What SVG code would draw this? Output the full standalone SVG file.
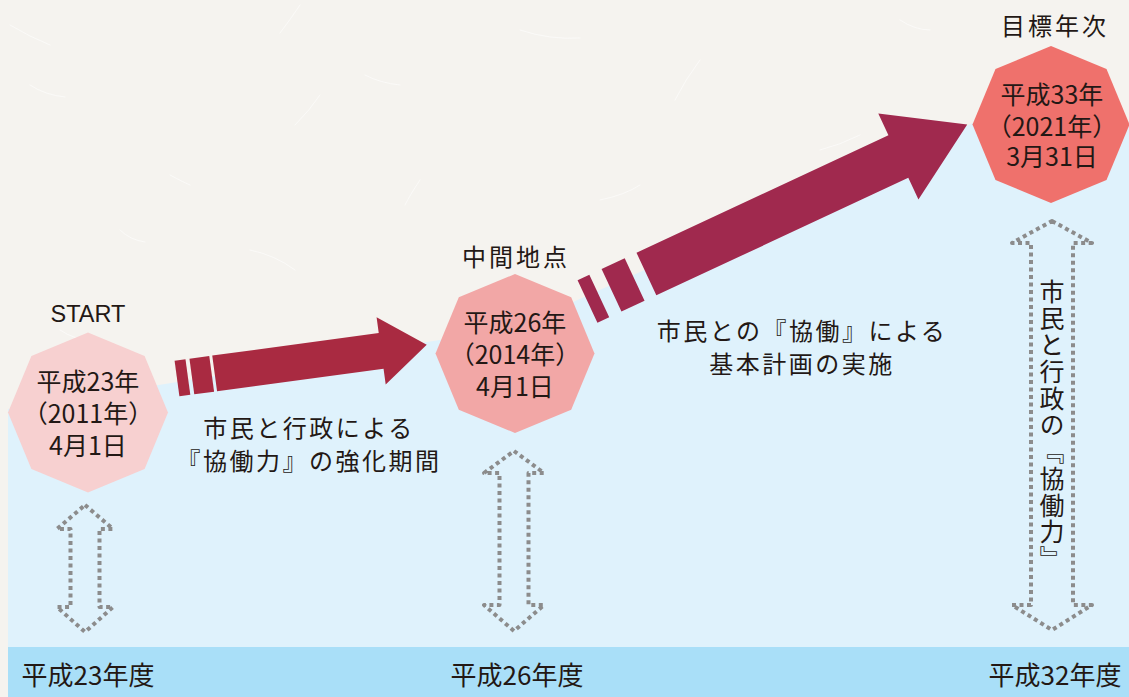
<svg xmlns="http://www.w3.org/2000/svg" width="1129" height="697" viewBox="0 0 1129 697">
  <style>
    .jp { font-family: "Noto Sans CJK JP", "Noto Sans CJK SC", sans-serif; fill: #231815; }
    .oct { font-size: 25px; text-anchor: middle; }
    .head { font-size: 24px; text-anchor: middle; letter-spacing: 3px; }
    .body { font-size: 24px; text-anchor: middle; letter-spacing: 2.5px; }
    .year { font-size: 26px; text-anchor: middle; }
    .fiber { fill: none; stroke: #ffffff; stroke-width: 1; stroke-linecap: round; opacity: 0.55; }
    .dotted { fill: none; stroke: #8c8c8c; stroke-width: 4; stroke-dasharray: 4 3.5; stroke-linejoin: round; }
  </style>

  <!-- paper background -->
  <rect x="0" y="0" width="1129" height="697" fill="#f5f3ef"/>
  <g id="paper-fibers">
    <path class="fiber" d="M10 25 q20 12 40 20"/>
    <path class="fiber" d="M30 85 q15 10 35 12"/>
    <path class="fiber" d="M300 5 q-10 15 -20 28"/>
    <path class="fiber" d="M320 95 q-10 15 -25 30"/>
    <path class="fiber" d="M365 75 q15 8 35 10"/>
    <path class="fiber" d="M170 175 q15 8 20 10"/>
    <path class="fiber" d="M520 30 q30 10 60 8"/>
    <path class="fiber" d="M700 60 q-15 20 -25 40"/>
    <path class="fiber" d="M820 150 q20 -5 40 -15"/>
    <path class="fiber" d="M250 250 q25 5 45 20"/>
    <path class="fiber" d="M120 230 q10 10 25 12"/>
    <path class="fiber" d="M420 180 q-10 15 -15 25"/>
    <path class="fiber" d="M600 200 q25 -5 40 -15"/>
    <path class="fiber" d="M900 20 q15 10 30 10"/>
    <path class="fiber" d="M60 330 q15 10 30 10"/>
  </g>

  <!-- light blue area and bottom bar -->
  <polygon id="blue-area" points="8,409 515,328 973,123 1129,125 1129,697 8,697" fill="#dff2fc"/>
  <rect id="year-bar" x="8" y="647" width="1121" height="50" fill="#a9dff8"/>

  <!-- connectors -->
  <g id="connectors">
    <g id="arrow-1" transform="translate(177,378.5) rotate(-7.7)" fill="#a92a41">
      <rect x="0" y="-18" width="11" height="36"/>
      <rect x="15" y="-18" width="20" height="36"/>
      <polygon points="38,-18 206,-18 206,-34 252,0 206,34 206,18 38,18"/>
    </g>
    <g id="arrow-2" transform="translate(587.5,301.5) rotate(-25)" fill="#a0294e">
      <rect x="0" y="-23.5" width="13" height="47"/>
      <rect x="26.5" y="-23.5" width="25.5" height="47"/>
      <polygon points="65,-23.5 343,-23.5 343,-47.5 419,0 343,47.5 343,23.5 65,23.5"/>
    </g>
    <path id="span-1" class="dotted" d="M85 505 L113 529 L99.5 529 L99.5 607 L113 607 L85 632 L57 607 L70.5 607 L70.5 529 L57 529 Z"/>
    <path id="span-2" class="dotted" d="M514 451 L544 473 L528.5 473 L528.5 605 L544 605 L514 631 L484 605 L499.5 605 L499.5 473 L484 473 Z"/>
    <path id="span-3" class="dotted" d="M1052 221 L1092 243 L1073 243 L1073 605 L1092 605 L1052 630 L1012 605 L1031 605 L1031 243 L1012 243 Z"/>
  </g>

  <!-- nodes -->
  <g id="node-start">
    <text x="88" y="322" font-family="Liberation Sans, Arial, sans-serif" font-size="23.5" text-anchor="middle" fill="#231815">START</text>
    <polygon points="88,332.5 144.6,356 168,412.5 144.6,469 88,492.5 31.4,469 8,412.5 31.4,356" fill="#f7d0d0"/>
    <text class="jp oct" x="88" y="391">平成23年</text>
    <text class="jp oct" x="88" y="423">（2011年）</text>
    <text class="jp oct" x="88" y="455">4月1日</text>
  </g>

  <g id="node-mid">
    <text class="jp head" x="516" y="266">中間地点</text>
    <polygon points="515,274 571.2,297.3 594.5,353.5 571.2,409.7 515,433 458.8,409.7 435.5,353.5 458.8,297.3" fill="#f2a7a6"/>
    <text class="jp oct" x="515" y="332">平成26年</text>
    <text class="jp oct" x="515" y="364">（2014年）</text>
    <text class="jp oct" x="515" y="396">4月1日</text>
  </g>

  <g id="node-goal">
    <text class="jp head" x="1055" y="35">目標年次</text>
    <polygon points="1051,46 1106.5,69 1129.5,124.5 1106.5,180 1051,203 995.5,180 972.5,124.5 995.5,69" fill="#ef716c"/>
    <text class="jp oct" x="1052" y="104">平成33年</text>
    <text class="jp oct" x="1052" y="136">（2021年）</text>
    <text class="jp oct" x="1052" y="166">3月31日</text>
  </g>

  <g id="label-phase-1">
    <text class="jp body" x="309" y="437">市民と行政による</text>
    <text class="jp body" x="309" y="470">『協働力』の強化期間</text>
  </g>

  <g id="label-phase-2">
    <text class="jp body" x="802" y="340">市民との『協働』による</text>
    <text class="jp body" x="802" y="373">基本計画の実施</text>
  </g>

  <g id="label-vertical">
    <text class="jp" x="1052" y="279" font-size="25" letter-spacing="1.7" style="writing-mode: vertical-rl;">市民と行政の『協働力』</text>
  </g>

  <g id="year-labels">
    <text class="jp year" x="88" y="685">平成23年度</text>
    <text class="jp year" x="517" y="685">平成26年度</text>
    <text class="jp year" x="1055" y="685">平成32年度</text>
  </g>
</svg>
